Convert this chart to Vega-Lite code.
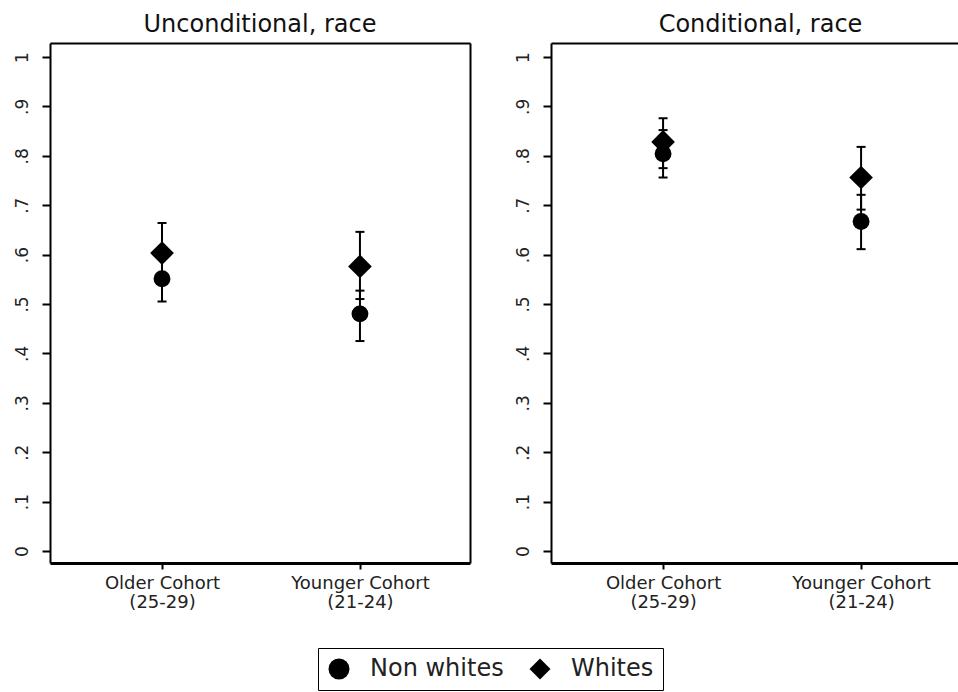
{
  "$schema": "https://vega.github.io/schema/vega-lite/v6.json",
  "padding": {"left": 5, "top": 13, "right": 0, "bottom": 0},
  "background": "white",
  "datasets": {
    "est": [
      {"panel": "Unconditional", "cohort": 0, "group": "Non whites", "est": 0.551, "lo": 0.505, "hi": 0.597},
      {"panel": "Unconditional", "cohort": 0, "group": "Whites", "est": 0.603, "lo": 0.540, "hi": 0.664},
      {"panel": "Unconditional", "cohort": 1, "group": "Non whites", "est": 0.480, "lo": 0.425, "hi": 0.527},
      {"panel": "Unconditional", "cohort": 1, "group": "Whites", "est": 0.576, "lo": 0.510, "hi": 0.646},
      {"panel": "Conditional", "cohort": 0, "group": "Non whites", "est": 0.804, "lo": 0.756, "hi": 0.852},
      {"panel": "Conditional", "cohort": 0, "group": "Whites", "est": 0.828, "lo": 0.775, "hi": 0.876},
      {"panel": "Conditional", "cohort": 1, "group": "Non whites", "est": 0.667, "lo": 0.611, "hi": 0.721},
      {"panel": "Conditional", "cohort": 1, "group": "Whites", "est": 0.756, "lo": 0.691, "hi": 0.818}
    ]
  },
  "spacing": 36,
  "hconcat": [
    {
      "width": 420,
      "height": 520,
      "title": {"text": "Unconditional, race"},
      "data": {"name": "est"},
      "transform": [{"filter": "datum.panel == 'Unconditional'"}],
      "resolve": {"axis": {"x": "independent", "y": "independent"}},
      "layer": [
        {
          "mark": {"type": "rule", "strokeWidth": 2, "color": "black"},
          "encoding": {
            "x": {"field": "cohort", "type": "quantitative", "title": null,
                  "scale": {"domain": [-0.566, 1.556], "nice": false, "zero": false},
                  "axis": {"orient": "bottom", "values": [0, 1], "labelExpr": "datum.value == 0 ? ['Older Cohort', '(25-29)'] : ['Younger Cohort', '(21-24)']", "domainWidth": 3, "tickSize": 6, "tickWidth": 2, "labelFontSize": 18, "labelLineHeight": 19, "labelPadding": 5, "grid": false}},
            "y": {"field": "lo", "type": "quantitative", "title": null,
                  "scale": {"domain": [-0.0243, 1.0283], "nice": false, "zero": false},
                  "axis": {"orient": "left", "values": [0, 0.1, 0.2, 0.3, 0.4, 0.5, 0.6, 0.7, 0.8, 0.9, 1], "labelExpr": "datum.value == 0 ? '0' : datum.value == 1 ? '1' : replace(format(datum.value, '.1f'), '0.', '.')", "labelAngle": -90, "tickSize": 8, "tickWidth": 2, "domainWidth": 2, "labelFontSize": 17, "labelPadding": 11, "minExtent": 45, "maxExtent": 45, "grid": false}},
            "y2": {"field": "hi"}
          }
        },
        {
          "mark": {"type": "tick", "orient": "horizontal", "size": 9, "thickness": 2, "color": "black", "opacity": 1},
          "encoding": {
            "x": {"field": "cohort", "type": "quantitative", "title": null,
                  "scale": {"domain": [-0.566, 1.556], "nice": false, "zero": false},
                  "axis": {"orient": "top", "labels": false, "ticks": false, "domainWidth": 2, "grid": false, "minExtent": 0, "maxExtent": 0}},
            "y": {"field": "lo", "type": "quantitative", "title": null,
                  "scale": {"domain": [-0.0243, 1.0283], "nice": false, "zero": false},
                  "axis": {"orient": "right", "labels": false, "ticks": false, "domainWidth": 2, "grid": false, "minExtent": 0, "maxExtent": 0}}
          }
        },
        {
          "mark": {"type": "tick", "orient": "horizontal", "size": 9, "thickness": 2, "color": "black", "opacity": 1},
          "encoding": {
            "x": {"field": "cohort", "type": "quantitative", "title": null, "axis": null},
            "y": {"field": "hi", "type": "quantitative", "title": null, "axis": null}
          }
        },
        {
          "transform": [{"filter": "datum.group == 'Non whites'"}],
          "mark": {"type": "point", "filled": true, "color": "black", "opacity": 1, "strokeWidth": 0, "size": 285},
          "encoding": {
            "x": {"field": "cohort", "type": "quantitative", "title": null, "axis": null},
            "y": {"field": "est", "type": "quantitative", "title": null, "axis": null},
            "shape": {"field": "group", "type": "nominal", "title": null,
                      "scale": {"domain": ["Non whites", "Whites"], "range": ["circle", "diamond"]},
                      "legend": {"orient": "none", "legendX": 268, "legendY": 605, "direction": "horizontal"}}
          }
        },
        {
          "transform": [{"filter": "datum.group == 'Whites'"}],
          "mark": {"type": "point", "filled": true, "color": "black", "opacity": 1, "strokeWidth": 0, "size": 560},
          "encoding": {
            "x": {"field": "cohort", "type": "quantitative", "title": null, "axis": null},
            "y": {"field": "est", "type": "quantitative", "title": null, "axis": null},
            "shape": {"field": "group", "type": "nominal", "title": null}
          }
        }
      ]
    },
    {
      "width": 407,
      "height": 520,
      "title": {"text": "Conditional, race", "dx": 6},
      "data": {"name": "est"},
      "transform": [{"filter": "datum.panel == 'Conditional'"}],
      "resolve": {"axis": {"x": "independent"}},
      "layer": [
        {
          "mark": {"type": "rule", "strokeWidth": 2, "color": "black"},
          "encoding": {
            "x": {"field": "cohort", "type": "quantitative", "title": null,
                  "scale": {"domain": [-0.566, 1.4895], "nice": false, "zero": false},
                  "axis": {"orient": "bottom", "values": [0, 1], "labelExpr": "datum.value == 0 ? ['Older Cohort', '(25-29)'] : ['Younger Cohort', '(21-24)']", "domainWidth": 3, "tickSize": 6, "tickWidth": 2, "labelFontSize": 18, "labelLineHeight": 19, "labelPadding": 5, "grid": false}},
            "y": {"field": "lo", "type": "quantitative", "title": null,
                  "scale": {"domain": [-0.0243, 1.0283], "nice": false, "zero": false},
                  "axis": {"orient": "left", "values": [0, 0.1, 0.2, 0.3, 0.4, 0.5, 0.6, 0.7, 0.8, 0.9, 1], "labelExpr": "datum.value == 0 ? '0' : datum.value == 1 ? '1' : replace(format(datum.value, '.1f'), '0.', '.')", "labelAngle": -90, "tickSize": 8, "tickWidth": 2, "domainWidth": 2, "labelFontSize": 17, "labelPadding": 11, "minExtent": 45, "maxExtent": 45, "grid": false}},
            "y2": {"field": "hi"}
          }
        },
        {
          "mark": {"type": "tick", "orient": "horizontal", "size": 9, "thickness": 2, "color": "black", "opacity": 1},
          "encoding": {
            "x": {"field": "cohort", "type": "quantitative", "title": null,
                  "scale": {"domain": [-0.566, 1.4895], "nice": false, "zero": false},
                  "axis": {"orient": "top", "labels": false, "ticks": false, "domainWidth": 2, "grid": false, "minExtent": 0, "maxExtent": 0}},
            "y": {"field": "lo", "type": "quantitative", "title": null}
          }
        },
        {
          "mark": {"type": "tick", "orient": "horizontal", "size": 9, "thickness": 2, "color": "black", "opacity": 1},
          "encoding": {
            "x": {"field": "cohort", "type": "quantitative", "title": null, "axis": null},
            "y": {"field": "hi", "type": "quantitative", "title": null}
          }
        },
        {
          "transform": [{"filter": "datum.group == 'Non whites'"}],
          "mark": {"type": "point", "filled": true, "color": "black", "opacity": 1, "strokeWidth": 0, "size": 285},
          "encoding": {
            "x": {"field": "cohort", "type": "quantitative", "title": null, "axis": null},
            "y": {"field": "est", "type": "quantitative", "title": null},
            "shape": {"field": "group", "type": "nominal", "title": null,
                      "scale": {"domain": ["Non whites", "Whites"], "range": ["circle", "diamond"]}}
          }
        },
        {
          "transform": [{"filter": "datum.group == 'Whites'"}],
          "mark": {"type": "point", "filled": true, "color": "black", "opacity": 1, "strokeWidth": 0, "size": 560},
          "encoding": {
            "x": {"field": "cohort", "type": "quantitative", "title": null, "axis": null},
            "y": {"field": "est", "type": "quantitative", "title": null},
            "shape": {"field": "group", "type": "nominal", "title": null}
          }
        }
      ]
    }
  ],
  "resolve": {"legend": {"shape": "shared"}, "scale": {"shape": "shared"}},
  "config": {
    "font": "DejaVu Sans",
    "view": {"stroke": null},
    "axis": {"domainColor": "black", "tickColor": "black", "labelColor": "#222222", "labelFont": "DejaVu Sans"},
    "title": {"fontSize": 24, "fontWeight": "normal", "color": "#111111", "anchor": "middle", "offset": 6, "font": "DejaVu Sans"},
    "legend": {"labelFontSize": 24, "labelColor": "#222222", "symbolSize": 440, "symbolFillColor": "black", "symbolStrokeWidth": 0, "strokeColor": "black", "padding": 9, "columnPadding": 24, "labelOffset": 19, "symbolOpacity": 1}
  }
}
